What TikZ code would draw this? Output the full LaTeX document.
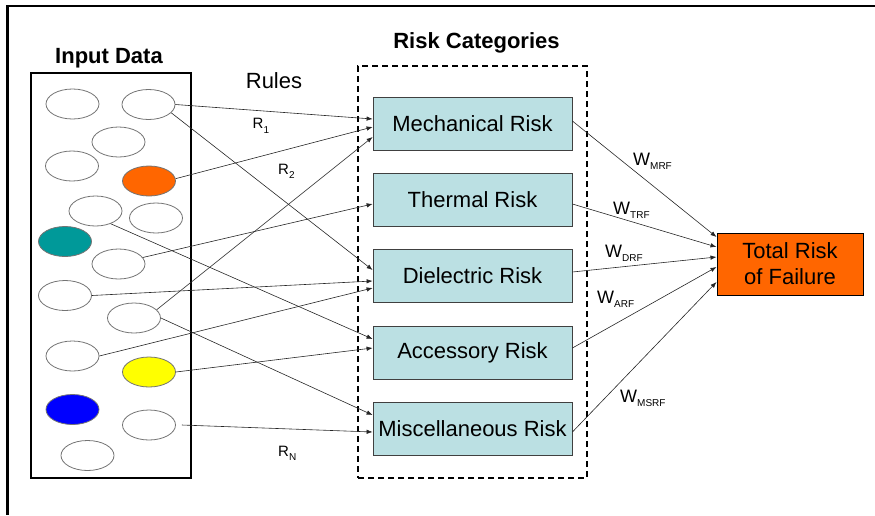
\documentclass[tikz,border=0pt]{standalone}
\usepackage{fontspec}
\setmainfont{Liberation Sans}
\usetikzlibrary{arrows.meta,shapes.geometric}
\definecolor{riskfill}{RGB}{187,224,227}
\definecolor{totalfill}{RGB}{255,102,0}
\definecolor{dotorange}{RGB}{255,102,0}
\definecolor{dotteal}{RGB}{0,153,153}
\definecolor{dotyellow}{RGB}{255,255,0}
\definecolor{dotblue}{RGB}{0,0,255}
\newcommand\lowsub[1]{\raisebox{-4.5pt}{\fontsize{10}{10}\selectfont #1}}
\begin{document}
\begin{tikzpicture}[x=1pt,y=-1pt,
  datum/.style={draw=black!55, line width=0.8pt, ellipse, minimum width=53pt,
    minimum height=30pt, inner sep=0pt},
  riskbox/.style={draw=black!75, line width=0.8pt, fill=riskfill,
    minimum width=199pt, minimum height=53pt, inner sep=0pt,
    font=\fontsize{22}{26}\selectfont},
  rule/.style={draw=black!85, line width=0.6pt,
    -{Latex[length=6pt,width=4.5pt]}},
  wlbl/.style={font=\fontsize{18}{20}\selectfont, inner sep=0pt, anchor=base west},
  rlbl/.style={font=\fontsize{15}{18}\selectfont, inner sep=0pt, anchor=base west},
  title/.style={font=\bfseries\fontsize{22}{26}\selectfont, inner sep=0pt, anchor=base},
]
\useasboundingbox (0,0) rectangle (875,515);

% outer frame (top and left edges)
\draw[line width=2.5pt] (875,6) -- (7.5,6) -- (7.5,515);

% input data block
\node[draw, line width=2pt, minimum width=160pt, minimum height=405pt, inner sep=0pt]
  (inbox) at (111,275.5) {};
\node[title] (intitle) at (109,63) {Input Data};

\node[datum] (e1)  at (72.5,104)  {};
\node[datum] (e2)  at (148.5,104.5) {};
\node[datum] (e3)  at (118.5,142) {};
\node[datum] (e4)  at (72,166)    {};
\node[datum, fill=dotorange] (e5) at (149,181) {};
\node[datum] (e6)  at (95.5,211)  {};
\node[datum] (e7)  at (156,218)   {};
\node[datum, fill=dotteal] (e8) at (65,241.5) {};
\node[datum] (e9)  at (118.5,264) {};
\node[datum] (e10) at (65,295.5)  {};
\node[datum] (e11) at (134,318)   {};
\node[datum] (e12) at (72.5,356)  {};
\node[datum, fill=dotyellow] (e13) at (149,372) {};
\node[datum, fill=dotblue] (e14) at (72.5,409.5) {};
\node[datum] (e15) at (149,425)   {};
\node[datum] (e16) at (87.5,455.5) {};

% risk categories block
\node[draw, dashed, dash pattern=on 6pt off 4pt, line width=1.5pt,
  minimum width=229pt, minimum height=412pt, inner sep=0pt]
  (catbox) at (472.5,272) {};
\node[title] (cattitle) at (476.5,48) {Risk Categories};

\node[riskbox] (mech)  at (472.5,123.5) {Mechanical Risk};
\node[riskbox] (therm) at (472.5,200)   {Thermal Risk};
\node[riskbox] (diel)  at (472.5,276)   {Dielectric Risk};
\node[riskbox] (acc)   at (472.5,352.5) {Accessory Risk};
\node[riskbox] (misc)  at (472.5,428.5) {Miscellaneous Risk};

\node[draw=black, line width=1pt, fill=totalfill, minimum width=146pt,
  minimum height=62pt, inner sep=0pt, align=center,
  font=\fontsize{22}{26}\selectfont] (total) at (790,264) {Total Risk\\of Failure};

% labels
\node[font=\fontsize{22}{26}\selectfont, inner sep=0pt, anchor=base] (rules) at (274,88) {Rules};
\node[rlbl] (r1) at (252.5,128.5) {R\lowsub{1}};
\node[rlbl] (r2) at (278,174) {R\lowsub{2}};
\node[rlbl] (rn) at (278,456) {R\lowsub{N}};

\node[wlbl] (wm)  at (633,165)  {W\lowsub{MRF}};
\node[wlbl] (wt)  at (613,214)  {W\lowsub{TRF}};
\node[wlbl] (wd)  at (605,257)  {W\lowsub{DRF}};
\node[wlbl] (wa)  at (597,303)  {W\lowsub{ARF}};
\node[wlbl] (wms) at (620,402)  {W\lowsub{MSRF}};

% rules: input data to risk categories
\draw[rule] (e2.east)  -- ([yshift=4.5pt]mech.west);
\draw[rule] (e5.5)     -- ([yshift=-3.5pt]mech.west);
\draw[rule] (e11.20)   -- ([yshift=-13.5pt]mech.west);
\draw[rule] (e9.15)    -- ([yshift=-4pt]therm.west);
\draw[rule] (e2.-20)   -- ([yshift=6pt]diel.west);
\draw[rule] (e10.east) -- ([yshift=-5pt]diel.west);
\draw[rule] (e12.east) -- ([yshift=-12pt]diel.west);
\draw[rule] (e6.-40)   -- ([yshift=13.5pt]acc.west);
\draw[rule] (e13.east) -- ([yshift=4.5pt]acc.west);
\draw[rule] (e11.east) -- ([yshift=13.5pt]misc.west);
\draw[rule] ([xshift=6pt]e15.east) -- ([yshift=-3.5pt]misc.west);

% weights: risk categories to total risk
\draw[rule] ([yshift=2.5pt]mech.east)  -- ([yshift=27pt]total.west);
\draw[rule] ([yshift=-4pt]therm.east)  -- ([yshift=17pt]total.west);
\draw[rule] ([yshift=4pt]diel.east)    -- ([yshift=7pt]total.west);
\draw[rule] ([yshift=4.5pt]acc.east)   -- ([yshift=-3pt]total.west);
\draw[rule] ([yshift=-3.5pt]misc.east) -- ([yshift=-18pt]total.west);
\end{tikzpicture}
\end{document}
